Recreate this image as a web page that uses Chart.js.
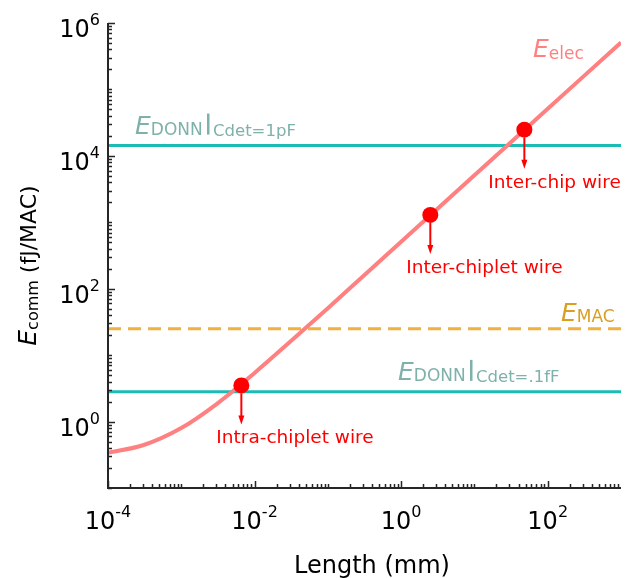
<!DOCTYPE html>
<html>
<head>
<meta charset="utf-8">
<script src="https://cdn.jsdelivr.net/npm/chart.js@4.4.0/dist/chart.umd.min.js"></script>
<style>
body { margin: 0; background: #fff; }
#wrap { width: 629px; height: 578px; position: relative; }
</style>
</head>
<body>
<div id="wrap"><canvas id="chartenergy"></canvas></div>
<script>
// wire length (mm) -> electrical energy (fJ/MAC)
const lengths = [1e-4, 3e-4, 1e-3, 3e-3, 1e-2, 3e-2, 1e-1, 3e-1, 1, 10, 100, 1000];
const eElec = [0.34, 0.44, 0.8, 1.82, 5.4, 15.6, 51, 153, 510, 5100, 51000, 510000];

// marked wires
const wireNames = ["Intra-chiplet wire", "Inter-chiplet wire", "Inter-chip wire"];
const wireLengths = [0.0066, 2.5, 48];
const wireEnergy = [3.5, 1290, 24800];

// horizontal reference levels (fJ/MAC)
const eDonn1pF = 14300;
const eDonn01fF = 2.8;
const eMac = 25;

// axis ticks
const xTicks = [1e-4, 1e-2, 1e0, 1e2];
const xTickLabels = [["10", "-4"], ["10", "-2"], ["10", "0"], ["10", "2"]];
const yTicks = [1e0, 1e2, 1e4, 1e6];
const yTickLabels = [["10", "0"], ["10", "2"], ["10", "4"], ["10", "6"]];

const FONT = '"DejaVu Sans", Verdana, sans-serif';
const pink = "#ff8080";
const teal = "#1bbcb4";
const gold = "#f0b13e";
const red = "#ff0000";
const donnText = "#7fb1ab";
const macText = "#d99e22";
const axisCol = "#262626";

function f(size, italic) { return (italic ? "italic " : "") + size + "px " + FONT; }

// parts: [text, font, dy, color]
function rich(ctx, parts, x, y, align) {
    let w = 0;
    parts.forEach(p => { ctx.font = p[1]; w += ctx.measureText(p[0]).width; });
    let cx = align === "center" ? x - w / 2 : align === "right" ? x - w : x;
    parts.forEach(p => {
        ctx.font = p[1];
        ctx.fillStyle = p[3];
        ctx.fillText(p[0], cx, y + p[2]);
        cx += ctx.measureText(p[0]).width;
    });
}

function flat(v) { return [{ x: 1e-4, y: v }, { x: 1e3, y: v }]; }

const decor = {
    id: "decor",
    afterDatasetsDraw(chart) {
        const ctx = chart.ctx, a = chart.chartArea;
        const xs = chart.scales.x, ys = chart.scales.y;
        ctx.save();
        ctx.textAlign = "left";
        ctx.textBaseline = "alphabetic";

        // arrows + wire labels
        const labelDx = [-25, -24, -36];
        ctx.strokeStyle = red;
        ctx.fillStyle = red;
        wireLengths.forEach((L, i) => {
            const px = xs.getPixelForValue(L), py = ys.getPixelForValue(wireEnergy[i]);
            ctx.lineWidth = 2;
            ctx.beginPath();
            ctx.moveTo(px, py + 8);
            ctx.lineTo(px, py + 32);
            ctx.stroke();
            ctx.beginPath();
            ctx.moveTo(px - 3, py + 30);
            ctx.lineTo(px + 3, py + 30);
            ctx.lineTo(px, py + 39);
            ctx.closePath();
            ctx.fill();
            ctx.font = f(18.5);
            ctx.fillText(wireNames[i], px + labelDx[i], py + 58);
        });

        // line labels
        const y1 = ys.getPixelForValue(eDonn1pF);
        rich(ctx, [["E", f(25, true), 0, donnText], ["DONN", f(17), 1, donnText]], 135, y1 - 12, "left");
        ctx.fillStyle = donnText;
        ctx.fillRect(207, y1 - 32, 2.5, 21);
        rich(ctx, [["Cdet=1pF", f(16.5), 0, donnText]], 213, y1 - 10, "left");

        const y2 = ys.getPixelForValue(eDonn01fF);
        rich(ctx, [["E", f(25, true), 0, donnText], ["DONN", f(17), 1, donnText]], 398, y2 - 12, "left");
        ctx.fillStyle = donnText;
        ctx.fillRect(470, y2 - 32, 2.5, 21);
        rich(ctx, [["Cdet=.1fF", f(16.5), 0, donnText]], 476, y2 - 10, "left");

        const y3 = ys.getPixelForValue(eMac);
        rich(ctx, [["E", f(25, true), 0, macText], ["MAC", f(17), 1, macText]], 561, y3 - 8, "left");

        rich(ctx, [["E", f(25, true), 0, pink], ["elec", f(17), 2, pink]], 533, 57, "left");

        // axes
        ctx.strokeStyle = axisCol;
        ctx.lineWidth = 2;
        ctx.beginPath();
        ctx.moveTo(a.left, a.top);
        ctx.lineTo(a.left, a.bottom);
        ctx.lineTo(a.right, a.bottom);
        ctx.stroke();

        ctx.lineWidth = 1.5;
        ctx.beginPath();
        for (let d = Math.round(Math.log10(xs.min)); d < Math.round(Math.log10(xs.max)); d++) {
            for (let k = 1; k < 10; k++) {
                const v = k * Math.pow(10, d);
                const px = Math.round(xs.getPixelForValue(v)) + 0.5;
                const len = (k === 1 && xTicks.includes(v)) ? 7 : 4;
                ctx.moveTo(px, a.bottom); ctx.lineTo(px, a.bottom - len);
            }
        }
        for (let d = Math.round(Math.log10(ys.min)); d <= Math.round(Math.log10(ys.max)); d++) {
            for (let k = 1; k < 10; k++) {
                const v = k * Math.pow(10, d);
                if (v > ys.max * 1.001) break;
                const py = Math.round(ys.getPixelForValue(v)) + 0.5;
                const len = (k === 1 && yTicks.some(t => Math.abs(t - v) < v * 1e-6)) ? 7 : 4;
                ctx.moveTo(a.left, py); ctx.lineTo(a.left + len, py);
            }
        }
        ctx.stroke();

        // tick labels
        xTicks.forEach((v, i) => {
            const px = xs.getPixelForValue(v);
            rich(ctx, [[xTickLabels[i][0], f(24), 0, "#000"], [xTickLabels[i][1], f(16), -12, "#000"]], px, 529, "center");
        });
        yTicks.forEach((v, i) => {
            const py = ys.getPixelForValue(v);
            rich(ctx, [[yTickLabels[i][0], f(24), 0, "#000"], [yTickLabels[i][1], f(16), -12, "#000"]], 100, py + 14, "right");
        });

        // axis titles
        rich(ctx, [["Length (mm)", f(24), 0, "#000"]], 372, 573, "center");
        ctx.save();
        ctx.translate(36, (a.top + a.bottom) / 2 + 10);
        ctx.rotate(-Math.PI / 2);
        rich(ctx, [["E", f(25, true), 0, "#000"], ["comm", f(16), 2, "#000"], [" (fJ/MAC)", f(22), 0, "#000"]], 0, 0, "center");
        ctx.restore();

        ctx.restore();
    }
};

new Chart(document.getElementById("chartenergy"), {
    type: "scatter",
    data: {
        datasets: [
            {
                label: "wires",
                data: wireLengths.map((L, i) => ({ x: L, y: wireEnergy[i] })),
                pointRadius: 8,
                pointBackgroundColor: red,
                pointBorderWidth: 0,
                order: 0
            },
            {
                label: "E_elec",
                data: lengths.map((L, i) => ({ x: L, y: eElec[i] })),
                showLine: true,
                borderColor: pink,
                borderWidth: 4,
                pointRadius: 0,
                cubicInterpolationMode: "monotone",
                order: 1
            },
            {
                label: "E_DONN 1pF",
                data: flat(eDonn1pF),
                showLine: true,
                borderColor: teal,
                borderWidth: 3,
                pointRadius: 0,
                order: 2
            },
            {
                label: "E_DONN .1fF",
                data: flat(eDonn01fF),
                showLine: true,
                borderColor: teal,
                borderWidth: 3,
                pointRadius: 0,
                order: 2
            },
            {
                label: "E_MAC",
                data: flat(eMac),
                showLine: true,
                borderColor: gold,
                borderWidth: 3,
                borderDash: [13, 7],
                pointRadius: 0,
                order: 2
            }
        ]
    },
    plugins: [decor],
    options: {
        responsive: true,
        maintainAspectRatio: false,
        animation: false,
        layout: { padding: { left: 108, right: 6, top: 23, bottom: 90 } },
        plugins: { legend: { display: false }, tooltip: { enabled: false } },
        scales: {
            x: { type: "logarithmic", min: 1e-4, max: 1e3, display: false },
            y: { type: "logarithmic", min: 0.1, max: 1e6, display: false }
        }
    }
});
</script>
</body>
</html>
